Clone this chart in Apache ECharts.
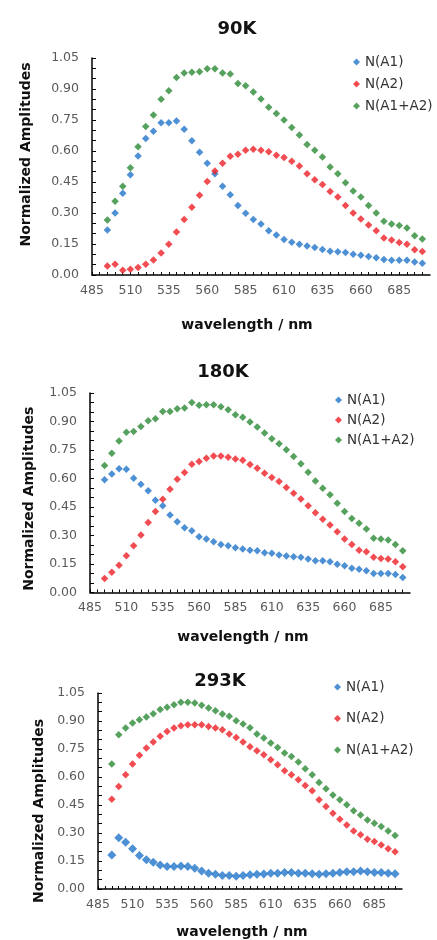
<!DOCTYPE html>
<html>
<head>
<meta charset="utf-8">
<script src="https://cdn.jsdelivr.net/npm/echarts@6/dist/echarts.min.js"></script>
<style>
  html, body { margin: 0; padding: 0; background: #fff; }
  #chart { width: 437px; height: 940px; }
</style>
</head>
<body>
<div id="chart"></div>
<script>
// ---- data ----
const wavelengths = [495, 500, 505, 510, 515, 520, 525, 530, 535, 540, 545, 550, 555, 560, 565, 570, 575, 580, 585, 590, 595,
                     600, 605, 610, 615, 620, 625, 630, 635, 640, 645, 650, 655, 660, 665, 670, 675, 680, 685, 690, 695, 700];
const xTickLabels = [485, 510, 535, 560, 585, 610, 635, 660, 685];
const yTickLabels = ['0.00', '0.15', '0.30', '0.45', '0.60', '0.75', '0.90', '1.05'];
const seriesNames = ['N(A1)', 'N(A2)', 'N(A1+A2)'];
const panelTitles = ['90K', '180K', '293K'];
const xAxisTitle = 'wavelength / nm';
const yAxisTitle = 'Normalized Amplitudes';

const a1_90K = [0.218, 0.300, 0.396, 0.485, 0.576, 0.661, 0.696, 0.737, 0.737, 0.745, 0.705, 0.649, 0.594, 0.541, 0.490, 0.429, 0.388, 0.336, 0.299, 0.269, 0.247,
                0.214, 0.193, 0.172, 0.159, 0.149, 0.140, 0.133, 0.123, 0.115, 0.112, 0.109, 0.101, 0.096, 0.089, 0.084, 0.075, 0.071, 0.071, 0.071, 0.063, 0.057];
const a2_90K = [0.044, 0.052, 0.023, 0.028, 0.036, 0.052, 0.073, 0.107, 0.149, 0.208, 0.268, 0.328, 0.386, 0.453, 0.503, 0.541, 0.575, 0.584, 0.604, 0.609, 0.604,
                0.596, 0.580, 0.568, 0.550, 0.528, 0.490, 0.461, 0.438, 0.404, 0.377, 0.336, 0.300, 0.271, 0.242, 0.214, 0.179, 0.169, 0.157, 0.149, 0.122, 0.114];
const a12_90K = [0.266, 0.357, 0.429, 0.519, 0.620, 0.718, 0.774, 0.851, 0.891, 0.956, 0.977, 0.981, 0.984, 0.998, 0.998, 0.977, 0.972, 0.927, 0.916, 0.885, 0.852,
                 0.812, 0.782, 0.750, 0.714, 0.677, 0.631, 0.604, 0.571, 0.523, 0.490, 0.446, 0.406, 0.377, 0.336, 0.300, 0.260, 0.247, 0.239, 0.227, 0.190, 0.174];

const a1_180K = [0.593, 0.624, 0.651, 0.649, 0.601, 0.570, 0.535, 0.485, 0.457, 0.408, 0.373, 0.341, 0.325, 0.294, 0.281, 0.267, 0.253, 0.246, 0.236, 0.229, 0.223,
                 0.220, 0.209, 0.206, 0.197, 0.192, 0.188, 0.185, 0.176, 0.167, 0.167, 0.162, 0.149, 0.141, 0.127, 0.123, 0.114, 0.100, 0.100, 0.100, 0.095, 0.079];
const a2_180K = [0.074, 0.106, 0.144, 0.193, 0.246, 0.302, 0.368, 0.426, 0.491, 0.543, 0.596, 0.631, 0.675, 0.689, 0.707, 0.719, 0.719, 0.712, 0.703, 0.696, 0.674,
                 0.654, 0.628, 0.605, 0.584, 0.552, 0.522, 0.492, 0.457, 0.420, 0.385, 0.355, 0.320, 0.281, 0.253, 0.223, 0.215, 0.185, 0.179, 0.176, 0.162, 0.135];
const a12_180K = [0.668, 0.733, 0.798, 0.844, 0.848, 0.874, 0.904, 0.915, 0.953, 0.953, 0.967, 0.971, 1.000, 0.985, 0.988, 0.988, 0.978, 0.962, 0.936, 0.922, 0.898,
                  0.871, 0.839, 0.809, 0.783, 0.751, 0.716, 0.677, 0.633, 0.587, 0.549, 0.514, 0.470, 0.426, 0.390, 0.364, 0.334, 0.285, 0.281, 0.276, 0.253, 0.220];

const a1_293K = [0.182, 0.275, 0.250, 0.215, 0.179, 0.157, 0.143, 0.129, 0.120, 0.120, 0.123, 0.120, 0.111, 0.097, 0.084, 0.079, 0.072, 0.072, 0.068, 0.072, 0.077,
                 0.079, 0.080, 0.084, 0.084, 0.088, 0.088, 0.084, 0.084, 0.082, 0.079, 0.082, 0.084, 0.089, 0.093, 0.093, 0.097, 0.093, 0.089, 0.088, 0.084, 0.082];
const a2_293K = [0.481, 0.549, 0.612, 0.669, 0.716, 0.755, 0.787, 0.818, 0.844, 0.862, 0.875, 0.880, 0.880, 0.880, 0.871, 0.862, 0.853, 0.830, 0.812, 0.787, 0.762,
                 0.741, 0.719, 0.692, 0.665, 0.633, 0.612, 0.585, 0.555, 0.526, 0.478, 0.442, 0.406, 0.374, 0.343, 0.311, 0.290, 0.267, 0.254, 0.236, 0.215, 0.200];
const a12_293K = [0.669, 0.826, 0.862, 0.889, 0.907, 0.921, 0.939, 0.961, 0.973, 0.987, 1.000, 1.000, 0.996, 0.984, 0.970, 0.955, 0.937, 0.925, 0.902, 0.884, 0.864,
                  0.830, 0.809, 0.782, 0.758, 0.728, 0.710, 0.680, 0.644, 0.612, 0.571, 0.537, 0.504, 0.478, 0.451, 0.419, 0.397, 0.370, 0.352, 0.335, 0.311, 0.286];

// ---- layout / styles ----
const FONT = '"DejaVu Sans", "Open Sans", sans-serif';
const colors = ['#2274c9', '#ee1f26', '#2b8a34'];
const panels = [
  { title: panelTitles[0], data: [a1_90K, a2_90K, a12_90K],
    grid: { left: 92, top: 58, width: 338, height: 217 },
    titlePos: { x: 237, y: 20 },
    legend: { left: 353, top: 55, gap: 8 },
    yName: { gap: 59, pad: [0, 0, 0, 24] },
    xName: { gap: 43, pad: [0, 28, 0, 0] },
    sizes: [7.5, 7.5, 7.5] },
  { title: panelTitles[1], data: [a1_180K, a2_180K, a12_180K],
    grid: { left: 90, top: 393, width: 320, height: 199.5 },
    titlePos: { x: 223, y: 363 },
    legend: { left: 335, top: 393, gap: 6 },
    yName: { gap: 54, pad: [0, 12, 0, 0] },
    xName: { gap: 38, pad: [0, 14, 0, 0] },
    sizes: [7.5, 7.5, 7.5] },
  { title: panelTitles[2], data: [a1_293K, a2_293K, a12_293K],
    grid: { left: 98, top: 693, width: 304, height: 196 },
    titlePos: { x: 220, y: 672 },
    legend: { left: 334, top: 680, gap: 17.5 },
    yName: { gap: 47, pad: [0, 40, 0, 0] },
    xName: { gap: 36, pad: [0, 16, 0, 0] },
    sizes: [9, 7.5, 7.5] }
];

const option = {
  animation: false,
  backgroundColor: '#ffffff',
  textStyle: { fontFamily: FONT },
  title: [], legend: [], grid: [], xAxis: [], yAxis: [], series: []
};

panels.forEach((p, i) => {
  option.title.push({
    text: p.title, left: p.titlePos.x, top: p.titlePos.y, textAlign: 'center', padding: 0,
    textStyle: { fontFamily: FONT, fontSize: 18, fontWeight: 'bold', color: '#111' }
  });
  option.legend.push({
    orient: 'vertical', left: p.legend.left, top: p.legend.top, padding: 0,
    itemGap: p.legend.gap, itemWidth: 7, itemHeight: 7, icon: 'diamond',
    data: seriesNames.slice(),
    textStyle: { fontFamily: FONT, fontSize: 13.5, lineHeight: 14, color: '#333' }
  });
  option.grid.push(Object.assign({ containLabel: false }, p.grid));
  option.xAxis.push({
    type: 'value', gridIndex: i, min: 485, max: 705, interval: 5,
    name: xAxisTitle, nameLocation: 'middle', nameGap: p.xName.gap,
    nameTextStyle: { fontFamily: FONT, fontSize: 14, fontWeight: 'bold', color: '#111', padding: p.xName.pad },
    axisLine: { show: true, onZero: false, lineStyle: { color: '#000', width: 1.5 } },
    axisTick: { show: true, inside: true, length: 3, lineStyle: { color: '#000', width: 1 } },
    axisLabel: {
      margin: 9, fontSize: 12.5, color: '#595959', fontFamily: FONT,
      showMaxLabel: false,
      formatter: v => xTickLabels.indexOf(Math.round(v)) >= 0 ? String(Math.round(v)) : ''
    },
    splitLine: { show: false }
  });
  option.yAxis.push({
    type: 'value', gridIndex: i, min: 0, max: 1.05, interval: 0.15,
    name: yAxisTitle, nameLocation: 'middle', nameGap: p.yName.gap, nameRotate: 90,
    nameTextStyle: { fontFamily: FONT, fontSize: 14, fontWeight: 'bold', color: '#111', padding: p.yName.pad },
    axisLine: { show: true, onZero: false, lineStyle: { color: '#000', width: 1.5 } },
    axisTick: { show: true, inside: true, length: 4, lineStyle: { color: '#000', width: 1 } },
    minorTick: { show: true, splitNumber: 3, length: 4, lineStyle: { color: '#000', width: 1 } },
    axisLabel: {
      margin: 13, fontSize: 12.5, color: '#595959', fontFamily: FONT,
      formatter: v => yTickLabels[Math.round(v / 0.15)]
    },
    splitLine: { show: false }
  });
  seriesNames.forEach((name, k) => {
    option.series.push({
      type: 'scatter', name: name, xAxisIndex: i, yAxisIndex: i,
      symbol: 'diamond', symbolSize: p.sizes[k],
      itemStyle: { color: colors[k] },
      data: wavelengths.map((w, j) => [w, p.data[k][j]])
    });
  });
});

const chart = echarts.init(document.getElementById('chart'), null, { renderer: 'canvas' });
chart.setOption(option);
</script>
</body>
</html>
